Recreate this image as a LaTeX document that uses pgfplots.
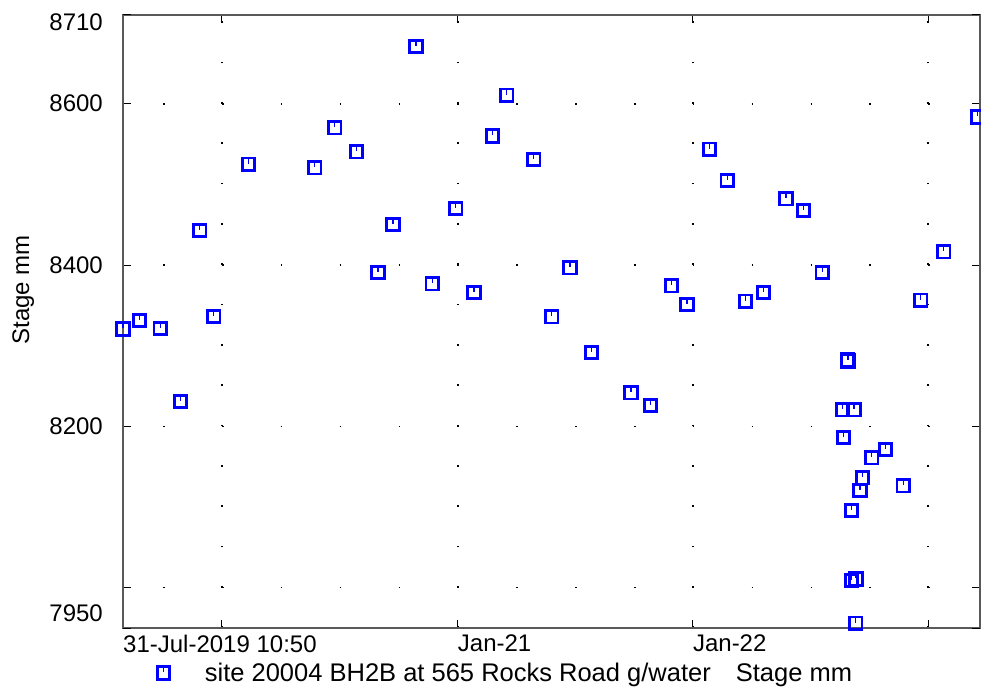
\documentclass[border=0pt]{standalone}
\usepackage{fontspec}
\setmainfont{Liberation Sans}
\usepackage{pgfplots}
\pgfplotsset{compat=1.18}
\definecolor{mblue}{RGB}{0,0,255}
\pgfdeclareplotmark{sqtick}{%
  \pgfpathrectangle{\pgfpoint{-\pgfplotmarksize}{-\pgfplotmarksize}}{\pgfpoint{2\pgfplotmarksize}{2\pgfplotmarksize}}%
  \pgfusepathqstroke
  \begin{pgfscope}%
  \pgfsetlinewidth{1.2bp}%
  \pgfpathmoveto{\pgfpoint{0pt}{\pgfplotmarksize}}%
  \pgfpathlineto{\pgfpoint{0pt}{0.1\pgfplotmarksize}}%
  \pgfusepathqstroke
  \end{pgfscope}}
\begin{document}
\begin{tikzpicture}[font=\fontsize{24bp}{28bp}\selectfont]
\begin{axis}[name=ax,
  width=857bp, height=613bp, scale only axis,
  xmin=-153.55, xmax=1176.7, ymin=7950, ymax=8710,
  clip=false,
  axis line style={draw=black!65, line width=1.3bp},
  tick style={black, line width=1bp},
  tick align=inside, major tick length=8bp,
  xtick={-153.55,0,366,731,1096},
  xticklabels={31-Jul-2019 10:50,,Jan-21,Jan-22,},
  xticklabel style={anchor=north west, inner sep=0pt, yshift=-7bp},
  ytick={8000,8200,8400,8600},
  yticklabels={,8200,8400,8600},
  extra y ticks={7950,8710},
  extra y tick labels={\raisebox{15bp}[\height][\depth]{7950},\raisebox{-7bp}[\height][\depth]{8710}},
  extra y tick style={grid=none},
  yticklabel style={anchor=east, inner sep=0pt, xshift=-20bp},
  grid=major,
  x grid style={black, line width=1.6bp, dash pattern=on 1.6bp off 38.73bp},
  y grid style={black, line width=1.6bp, dash pattern=on 1.6bp off 57.25bp, dash phase=18.7bp},
  ylabel={Stage mm},
  ylabel style={at={(axis description cs:-0.1165,0.5514)}, anchor=center},
  legend style={at={(axis description cs:0.0400,-0.0734)}, anchor=west, draw=none, fill=none, inner sep=0pt,
    font=\fontsize{25.5bp}{30bp}\selectfont},
]
\addplot[only marks, mark=sqtick, mark size=6.2bp, color=mblue,
  mark options={solid, draw=mblue, fill=none, line width=2.8bp}] coordinates {
(-153.55,8320.7) (-128.1,8331.0) (-95.9,8321.3) (-64.1,8230.6) (-34.2,8442.7)
(-12.6,8336.2) (41.1,8525.1) (144.2,8520.6) (175.1,8570.2) (209.1,8540.3)
(242.2,8390.8) (265.5,8450.5) (301.2,8670.7) (326.5,8376.7) (362.9,8470.2)
(391.4,8366.1) (419.9,8560.0) (442.1,8610.6) (484.2,8530.9) (512.0,8335.8)
(540.4,8396.6) (573.6,8291.5) (634.9,8241.7) (665.5,8226.1) (698.1,8374.3)
(721.9,8351.0) (756.8,8543.5) (784.4,8504.6) (813.0,8355.1) (840.8,8366.1)
(875.6,8482.1) (902.6,8467.8) (931.9,8390.6) (963.0,8220.5) (965.1,8186.2)
(971.0,8282.3) (971.8,8281.0) (981.0,8220.5) (977.5,8095.9) (977.5,8008.7)
(984.2,8010.8) (983.8,7955.9) (990.4,8120.5) (994.6,8136.2) (1008.6,8161.0)
(1030.0,8171.1) (1057.6,8126.3) (1084.8,8356.3) (1120.5,8416.5) (1172.8,8583.5)
};
\addlegendentry{\hspace{33bp}site 20004 BH2B at 565 Rocks Road g/water\hspace{25bp}Stage mm}
\end{axis}
\pgfresetboundingbox
\path[use as bounding box] ([xshift=-123bp,yshift=-65bp]ax.south west) rectangle ([xshift=1bp,yshift=15bp]ax.north east);
\end{tikzpicture}
\end{document}
